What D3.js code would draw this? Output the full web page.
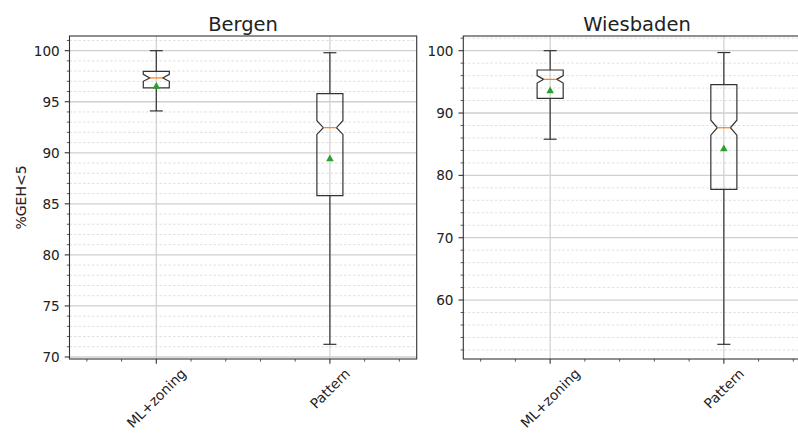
<!DOCTYPE html>
<html>
<head>
<meta charset="UTF-8">
<title>GEH boxplots</title>
<script src="https://d3js.org/d3.v7.min.js"></script>
<style>
  body { margin: 0; background: #fff; }
  svg { display: block; font-family: "DejaVu Sans", sans-serif; }
  .tick-label { font-size: 13.6px; fill: #222; }
</style>
</head>
<body>
<div id="chart"></div>
<script>
// categories and panels
var categories = ["ML+zoning", "Pattern"];
var cities = ["Bergen", "Wiesbaden"];

// box statistics, one value per category
var bergenWhiskerLow  = [94.1, 71.24];
var bergenQ1          = [96.35, 85.8];
var bergenMedian      = [97.33, 92.46];
var bergenQ3          = [97.98, 95.8];
var bergenWhiskerHigh = [100.0, 99.8];
var bergenMean        = [96.6, 89.5];
var bergenNotchLow    = [97.0, 91.8];
var bergenNotchHigh   = [97.68, 93.14];

var wiesWhiskerLow  = [85.8, 52.9];
var wiesQ1          = [92.36, 77.75];
var wiesMedian      = [95.4, 87.64];
var wiesQ3          = [96.9, 94.54];
var wiesWhiskerHigh = [100.0, 99.7];
var wiesMean        = [93.7, 84.4];
var wiesNotchLow    = [94.8, 86.45];
var wiesNotchHigh   = [96.0, 88.85];

// tick labels
var bergenTicks = [70, 75, 80, 85, 90, 95, 100];
var wiesTicks = [60, 70, 80, 90, 100];
var bergenMinorStep = 1;
var wiesMinorStep = 2;

var panels = [
  { title: cities[0], x0: 69.5, x1: 416.7, ticks: bergenTicks, minor: bergenMinorStep,
    wlo: bergenWhiskerLow, q1: bergenQ1, med: bergenMedian, q3: bergenQ3,
    whi: bergenWhiskerHigh, mean: bergenMean, clo: bergenNotchLow, chi: bergenNotchHigh },
  { title: cities[1], x0: 463.3, x1: 810.7, ticks: wiesTicks, minor: wiesMinorStep,
    wlo: wiesWhiskerLow, q1: wiesQ1, med: wiesMedian, q3: wiesQ3,
    whi: wiesWhiskerHigh, mean: wiesMean, clo: wiesNotchLow, chi: wiesNotchHigh }
];

var width = 798, height = 433;
var top0 = 36, bottom0 = 359;
var boxW = 0.15;   // in category units
var ink = "#333";

var svg = d3.select("#chart").append("svg")
  .attr("width", width)
  .attr("height", height);

panels.forEach(function(p) {
  var lo = d3.min(p.wlo), hi = d3.max(p.whi);
  var pad = (hi - lo) * 0.05;
  var y = d3.scaleLinear().domain([lo - pad, hi + pad]).range([bottom0, top0]);
  var x = d3.scaleLinear().domain([0.5, 2.5]).range([p.x0, p.x1]);

  var g = svg.append("g");

  // minor y grid
  var start = Math.ceil(y.domain()[0] / p.minor) * p.minor;
  var minorTicks = d3.range(start, y.domain()[1], p.minor)
    .filter(function(v) { return p.ticks.indexOf(v) < 0; });
  g.selectAll(".ygrid-minor").data(minorTicks).enter().append("line")
    .attr("x1", p.x0).attr("x2", p.x1)
    .attr("y1", function(d) { return y(d); }).attr("y2", function(d) { return y(d); })
    .attr("stroke", "#dcdcdc").attr("stroke-width", 0.9)
    .attr("stroke-dasharray", "2.5,2");

  // major y grid
  g.selectAll(".ygrid").data(p.ticks).enter().append("line")
    .attr("x1", p.x0).attr("x2", p.x1)
    .attr("y1", function(d) { return y(d); }).attr("y2", function(d) { return y(d); })
    .attr("stroke", "#cfcfcf").attr("stroke-width", 1.3);

  // x grid at categories
  g.selectAll(".xgrid").data(categories).enter().append("line")
    .attr("x1", function(d, i) { return x(i + 1); }).attr("x2", function(d, i) { return x(i + 1); })
    .attr("y1", top0).attr("y2", bottom0)
    .attr("stroke", "#cfcfcf").attr("stroke-width", 1.2);

  // boxes
  categories.forEach(function(c, i) {
    var pos = i + 1;
    var bl = x(pos - boxW / 2), br = x(pos + boxW / 2);
    var cl = x(pos - boxW / 4), cr = x(pos + boxW / 4);

    // whiskers
    g.append("line").attr("x1", x(pos)).attr("x2", x(pos))
      .attr("y1", y(p.q1[i])).attr("y2", y(p.wlo[i]))
      .attr("stroke", ink).attr("stroke-width", 1.2);
    g.append("line").attr("x1", x(pos)).attr("x2", x(pos))
      .attr("y1", y(p.q3[i])).attr("y2", y(p.whi[i]))
      .attr("stroke", ink).attr("stroke-width", 1.2);
    // caps
    [p.wlo[i], p.whi[i]].forEach(function(v) {
      g.append("line").attr("x1", cl).attr("x2", cr)
        .attr("y1", y(v)).attr("y2", y(v))
        .attr("stroke", ink).attr("stroke-width", 1.2);
    });

    // notched box
    var pts = [
      [bl, p.q1[i]], [br, p.q1[i]], [br, p.clo[i]], [cr, p.med[i]], [br, p.chi[i]],
      [br, p.q3[i]], [bl, p.q3[i]], [bl, p.chi[i]], [cl, p.med[i]], [bl, p.clo[i]]
    ];
    g.append("path")
      .attr("d", "M" + pts.map(function(d) { return d[0] + "," + y(d[1]); }).join("L") + "Z")
      .attr("fill", "none").attr("stroke", ink).attr("stroke-width", 1.2);

    // median
    g.append("line").attr("x1", cl).attr("x2", cr)
      .attr("y1", y(p.med[i])).attr("y2", y(p.med[i]))
      .attr("stroke", "#ff7f0e").attr("stroke-width", 1.2);

    // mean marker
    g.append("path")
      .attr("transform", "translate(" + x(pos) + "," + y(p.mean[i]) + ")")
      .attr("d", "M0,-3.5L3.8,3.3L-3.8,3.3Z")
      .attr("fill", "#2ca02c");
  });

  // frame
  g.append("rect")
    .attr("x", p.x0).attr("y", top0)
    .attr("width", p.x1 - p.x0).attr("height", bottom0 - top0)
    .attr("fill", "none").attr("stroke", ink).attr("stroke-width", 1.1);

  // y ticks
  g.selectAll(".ytick").data(p.ticks).enter().append("line")
    .attr("x1", p.x0 - 4.8).attr("x2", p.x0)
    .attr("y1", function(d) { return y(d); }).attr("y2", function(d) { return y(d); })
    .attr("stroke", ink).attr("stroke-width", 1.1);
  g.selectAll(".ytick-minor").data(minorTicks).enter().append("line")
    .attr("x1", p.x0 - 2.7).attr("x2", p.x0)
    .attr("y1", function(d) { return y(d); }).attr("y2", function(d) { return y(d); })
    .attr("stroke", ink).attr("stroke-width", 0.8);
  g.selectAll(".ylab").data(p.ticks).enter().append("text")
    .attr("class", "tick-label")
    .attr("x", p.x0 - 9.8)
    .attr("y", function(d) { return y(d); })
    .attr("dy", "0.36em")
    .attr("text-anchor", "end")
    .text(function(d) { return d; });

  // x ticks
  var xMinor = d3.range(0.6, 2.45, 0.2).map(function(v) { return +v.toFixed(1); })
    .filter(function(v) { return v !== 1 && v !== 2; });
  g.selectAll(".xtick-minor").data(xMinor).enter().append("line")
    .attr("x1", function(d) { return x(d); }).attr("x2", function(d) { return x(d); })
    .attr("y1", bottom0).attr("y2", bottom0 + 2.7)
    .attr("stroke", ink).attr("stroke-width", 0.8);
  g.selectAll(".xtick").data(categories).enter().append("line")
    .attr("x1", function(d, i) { return x(i + 1); }).attr("x2", function(d, i) { return x(i + 1); })
    .attr("y1", bottom0).attr("y2", bottom0 + 4.8)
    .attr("stroke", ink).attr("stroke-width", 1.1);
  g.selectAll(".xlab").data(categories).enter().append("text")
    .attr("class", "tick-label")
    .style("font-size", "13.8px")
    .attr("text-anchor", "middle")
    .attr("dominant-baseline", "central")
    .text(function(d) { return d; })
    .each(function(d, i) {
      var len = this.getComputedTextLength();
      var half = (len + 14) * Math.SQRT1_2 / 2;
      d3.select(this).attr("transform",
        "translate(" + x(i + 1) + "," + (bottom0 + 7 + half) + ") rotate(-45)");
    });

  // title
  g.append("text")
    .attr("x", (p.x0 + p.x1) / 2)
    .attr("y", 31)
    .attr("text-anchor", "middle")
    .style("font-size", "19.5px")
    .attr("fill", "#222")
    .text(p.title);
});

// y axis label
svg.append("text")
  .attr("transform", "translate(26," + ((top0 + bottom0) / 2) + ") rotate(-90)")
  .attr("text-anchor", "middle")
  .style("font-size", "14px")
  .attr("fill", "#222")
  .text("%GEH<5");
</script>
</body>
</html>
